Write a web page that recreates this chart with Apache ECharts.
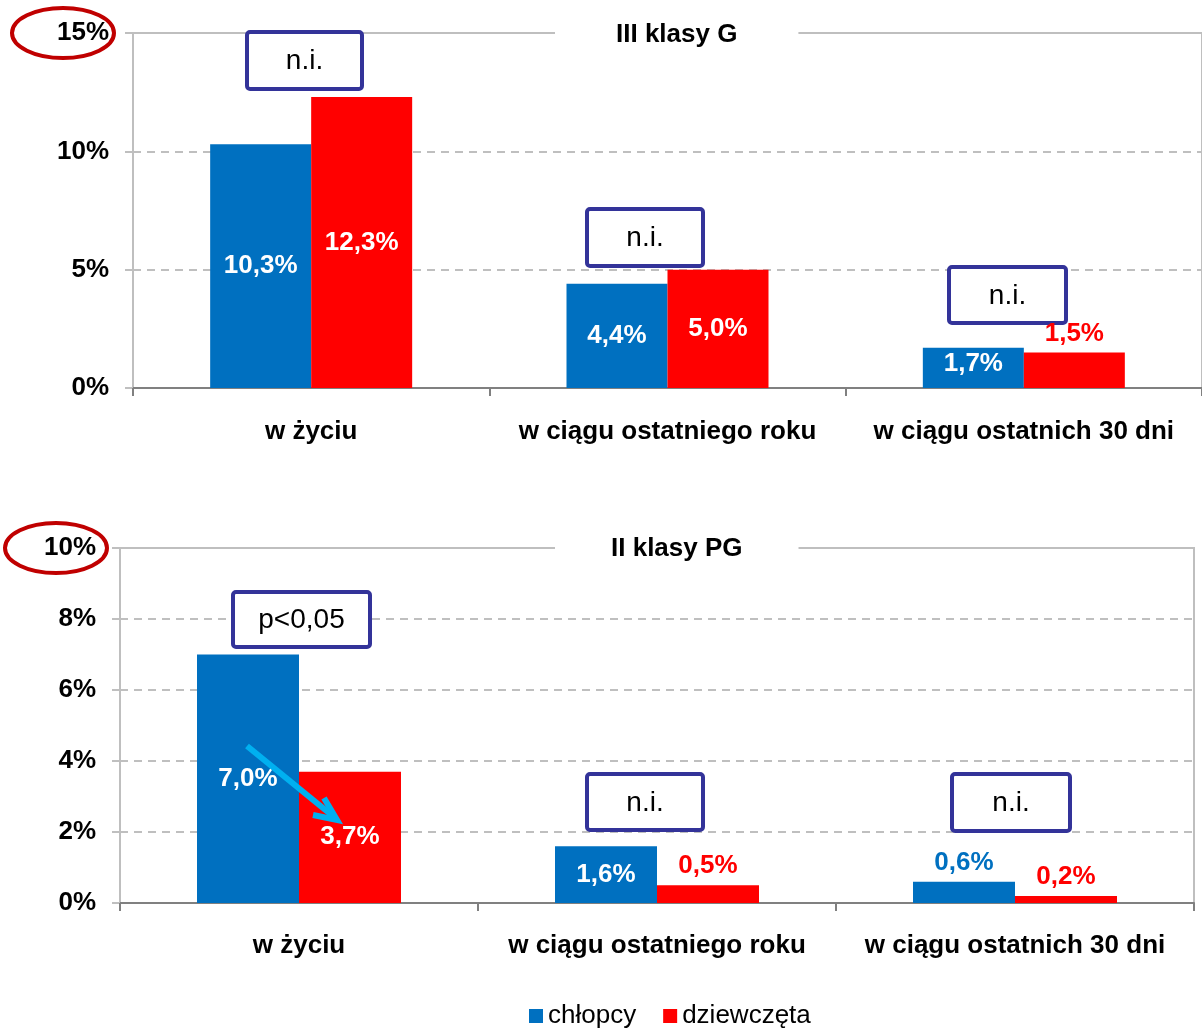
<!DOCTYPE html>
<html><head><meta charset="utf-8">
<script src="https://cdn.jsdelivr.net/npm/echarts@6/dist/echarts.min.js"></script>
<style>html,body{margin:0;padding:0;background:#fff}#c{width:1202px;height:1028px}</style>
</head><body><div id="c"></div>
<script>
const categories = ['w życiu', 'w ciągu ostatniego roku', 'w ciągu ostatnich 30 dni'];
const seriesNames = ['chłopcy', 'dziewczęta'];
const boysG = [10.3, 4.4, 1.7];
const girlsG = [12.3, 5.0, 1.5];
const boysPG = [7.0, 1.6, 0.6];
const girlsPG = [3.7, 0.5, 0.2];
const titleG = 'III klasy G';
const titlePG = 'II klasy PG';
const notesG = ['n.i.', 'n.i.', 'n.i.'];
const notesPG = ['p<0,05', 'n.i.', 'n.i.'];
// label placement: 'in' = inside bar (white), 'top' = above bar (series colour)
const lblBoysG = ['in', 'in', 'inTop'];
const lblGirlsG = ['in', 'in', 'top'];
const lblBoysPG = ['in', 'in', 'top'];
const lblGirlsPG = ['in', 'top', 'top'];

const BLUE = '#0070c0', RED = '#ff0000';
const FONT = '"Liberation Sans", Arial, sans-serif';
const fmt = v => v.toFixed(1).replace('.', ',') + '%';

function items(vals, places, color) {
  return vals.map((v, i) => {
    const p = places[i];
    const label = { show: true, formatter: fmt(v), fontFamily: FONT, fontWeight: 'bold', fontSize: 26 };
    if (p === 'top') { label.position = 'top'; label.color = color; label.distance = 6; }
    else if (p === 'inTop') { label.position = 'insideTop'; label.color = '#fff'; label.distance = 3; }
    else { label.position = 'inside'; label.color = '#fff'; }
    return { value: v, label };
  });
}

function xAxis(gi, margin) {
  return {
    type: 'category', gridIndex: gi, data: categories,
    axisLine: { lineStyle: { color: '#808080', width: 2 } },
    axisTick: { show: true, length: 8, lineStyle: { color: '#808080', width: 2 } },
    axisLabel: { interval: 0, color: '#000', fontFamily: FONT, fontWeight: 'bold', fontSize: 26, margin }
  };
}
function yAxis(gi, max, interval) {
  return {
    type: 'value', gridIndex: gi, min: 0, max, interval,
    axisLine: { show: true, lineStyle: { color: '#bfbfbf', width: 2 } },
    axisTick: { show: true, length: 8, lineStyle: { color: '#bfbfbf', width: 2 } },
    axisLabel: { formatter: '{value}%', color: '#000', fontFamily: FONT, fontWeight: 'bold', fontSize: 26, margin: 24 },
    splitLine: { show: true, lineStyle: { color: '#bfbfbf', width: 2, type: [8, 6] } }
  };
}
function bar(name, gi, data, color, bw) {
  return { name, type: 'bar', xAxisIndex: gi, yAxisIndex: gi, data, barWidth: bw, barGap: '0%',
    itemStyle: { color }, emphasis: { disabled: true } };
}

const chart = echarts.init(document.getElementById('c'), null, { renderer: 'canvas' });
const titleStyle = { color: '#000', fontFamily: FONT, fontWeight: 'bold', fontSize: 26, lineHeight: 30 };
chart.setOption({
  animation: false,
  backgroundColor: '#fff',
  title: [
    { text: titleG, left: 555, top: 20, padding: [0, 61], backgroundColor: '#fff', textStyle: titleStyle },
    { text: titlePG, left: 555, top: 534, padding: [0, 56], backgroundColor: '#fff', textStyle: titleStyle }
  ],
  legend: {
    data: seriesNames, left: 524, top: 998, icon: 'rect', itemWidth: 14, itemHeight: 14, itemGap: 27,
    textStyle: { color: '#000', fontFamily: FONT, fontSize: 26 }
  },
  grid: [
    { left: 133, right: -5, top: 33, height: 355, show: true, borderColor: '#bfbfbf', borderWidth: 2 },
    { left: 120, right: 8, top: 548, height: 355, show: true, borderColor: '#bfbfbf', borderWidth: 2 }
  ],
  xAxis: [xAxis(0, 31), xAxis(1, 30)],
  yAxis: [yAxis(0, 15, 5), yAxis(1, 10, 2)],
  series: [
    bar(seriesNames[0], 0, items(boysG, lblBoysG, BLUE), BLUE, 101),
    bar(seriesNames[1], 0, items(girlsG, lblGirlsG, RED), RED, 101),
    bar(seriesNames[0], 1, items(boysPG, lblBoysPG, BLUE), BLUE, 102),
    bar(seriesNames[1], 1, items(girlsPG, lblGirlsPG, RED), RED, 102)
  ]
});

// annotations
function box(x, y, w, h, txt) {
  return { type: 'group', z: 100, children: [
    { type: 'rect', shape: { x, y, width: w, height: h, r: 3 }, style: { fill: '#fff', stroke: '#333399', lineWidth: 4 } },
    { type: 'text', x: x + w / 2, y: y + h / 2 + 1, style: { text: txt, fill: '#000', font: '28px ' + FONT, align: 'center', verticalAlign: 'middle' } }
  ] };
}
const boxesG = [[247, 32, 115, 57], [587, 209, 116, 57], [949, 267, 117, 56]];
const boxesPG = [[233, 592, 137, 55], [587, 774, 116, 56], [952, 774, 118, 57]];
const g = [];
boxesG.forEach((b, i) => g.push(box(b[0], b[1], b[2], b[3], notesG[i])));
boxesPG.forEach((b, i) => g.push(box(b[0], b[1], b[2], b[3], notesPG[i])));
const ell = (cx, cy) => ({ type: 'ellipse', z: 100, shape: { cx, cy, rx: 51, ry: 25 }, style: { fill: null, stroke: '#c00000', lineWidth: 4 } });
g.push(ell(63, 33));
g.push(ell(56, 548));
g.push({ type: 'polyline', z: 100, shape: { points: [[247, 746], [334, 817]] }, style: { stroke: '#00b0f0', lineWidth: 6, fill: null } });
g.push({ type: 'polyline', z: 100, shape: { points: [[313, 815], [337, 820], [324, 798]] }, style: { stroke: '#00b0f0', lineWidth: 6, fill: null, lineJoin: 'miter' } });
chart.setOption({ graphic: g });
</script></body></html>
